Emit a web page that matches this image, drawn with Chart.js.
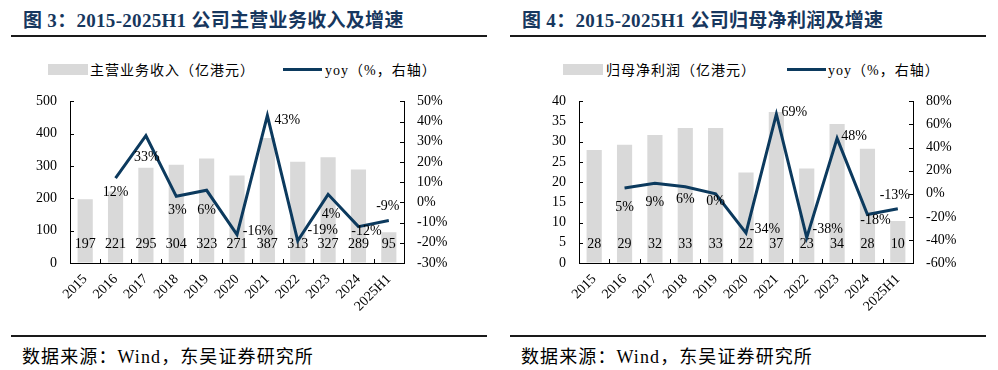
<!DOCTYPE html>
<html>
<head>
<meta charset="utf-8">
<script src="https://cdn.jsdelivr.net/npm/chart.js@4.4.1/dist/chart.umd.min.js"></script>
<style>
  body { margin: 0; width: 998px; height: 370px; background: #fff; position: relative; overflow: hidden;
         font-family: "Liberation Serif", "Noto Sans CJK SC", serif; color: #000; }
  .panel { position: absolute; top: 0; width: 499px; height: 370px; }
  .title { position: absolute; left: 23px; top: 5px; font-size: 19px; font-weight: bold; color: #17375e; white-space: nowrap; letter-spacing: 0.3px; }
  .rule { position: absolute; left: 11px; width: 476px; height: 2px; background: #1a1a1a; }
  .sw-bar { position: absolute; top: 64px; width: 40px; height: 11px; background: #d9d9d9; }
  .sw-line { position: absolute; top: 68px; width: 39px; height: 3px; background: #0c3a5e; }
  .lg { position: absolute; top: 59px; font-size: 14px; white-space: nowrap; letter-spacing: 1px; }
  .src { position: absolute; left: 22px; top: 342px; font-size: 18px; white-space: nowrap; letter-spacing: 1.1px; }
  .wrap { position: absolute; left: 0; top: 80px; width: 499px; height: 250px; }
</style>
</head>
<body>
<div class="panel" style="left:0">
  <div class="title">图 3：2015-2025H1 公司主营业务收入及增速</div>
  <div class="rule" style="top:35px"></div>
  <div class="sw-bar" style="left:48px"></div>
  <div class="lg" style="left:90px">主营业务收入（亿港元）</div>
  <div class="sw-line" style="left:283px"></div>
  <div class="lg" style="left:325px">yoy（%，右轴）</div>
  <div class="wrap"><canvas id="c1" width="499" height="250"></canvas></div>
  <div class="rule" style="top:335px"></div>
  <div class="src">数据来源：Wind，东吴证券研究所</div>
</div>
<div class="panel" style="left:499px">
  <div class="title">图 4：2015-2025H1 公司归母净利润及增速</div>
  <div class="rule" style="top:35px"></div>
  <div class="sw-bar" style="left:64px"></div>
  <div class="lg" style="left:107px">归母净利润（亿港元）</div>
  <div class="sw-line" style="left:288px"></div>
  <div class="lg" style="left:329px">yoy（%，右轴）</div>
  <div class="wrap"><canvas id="c2" width="499" height="250"></canvas></div>
  <div class="rule" style="top:335px"></div>
  <div class="src">数据来源：Wind，东吴证券研究所</div>
</div>

<script>
const years = ['2015', '2016', '2017', '2018', '2019', '2020', '2021', '2022', '2023', '2024', '2025H1'];

// 图3 主营业务收入（亿港元）与同比（%）
const revenue = [197, 221, 295, 304, 323, 271, 387, 313, 327, 289, 95];
const revenueYoy = [null, 12, 33, 3, 6, -16, 43, -19, 4, -12, -9];

// 图4 归母净利润（亿港元）与同比（%）
const profit = [28, 29.3, 31.7, 33.4, 33.4, 22.4, 37.4, 23.4, 34.4, 28.3, 10.4];
const profitYoy = [null, 5, 9, 6, 0, -34, 69, -38, 48, -18, -13];

// label nudges for the yoy labels [dx, dy] relative to the point
const revYoyNudge = [null, [0, 14], [1, 22], [1, 14], [0, 20], [21, -3], [20, 5], [25, -10], [3, 20], [8, 5], [-1, -14]];
const proYoyNudge = [null, [0, 19], [0, 19], [0, 13], [0, 8], [19, -4], [18, -2], [21, -8], [17, -2], [8, 6], [-3, -13]];

const NAVY = '#0c3a5e';
const FONT = '"Liberation Serif", "Times New Roman", serif';

const decor = {
  id: 'decor',
  afterDatasetDraw(chart, args) {
    if (args.meta.type !== 'bar') return;
    const { ctx, chartArea: a } = chart;
    const vals = chart.data.datasets[args.index].data;
    ctx.save();
    ctx.font = '14px ' + FONT;
    ctx.fillStyle = '#000';
    ctx.textAlign = 'center';
    ctx.textBaseline = 'middle';
    args.meta.data.forEach((b, i) => ctx.fillText(String(Math.round(vals[i])), b.x, a.bottom - 19));
    ctx.restore();
  },
  afterDatasetsDraw(chart, args, opts) {
    const { ctx, chartArea: a, scales } = chart;
    ctx.save();
    // inward tick marks
    ctx.strokeStyle = '#000';
    ctx.lineWidth = 1;
    ctx.beginPath();
    scales.y.ticks.forEach((t, i) => {
      const p = Math.round(scales.y.getPixelForTick(i)) + 0.5;
      ctx.moveTo(a.left, p); ctx.lineTo(a.left + 4, p);
    });
    scales.y1.ticks.forEach((t, i) => {
      const p = Math.round(scales.y1.getPixelForTick(i)) + 0.5;
      ctx.moveTo(a.right, p); ctx.lineTo(a.right - 4, p);
    });
    const n = chart.data.labels.length;
    for (let i = 1; i < n; i++) {
      const px = Math.round(a.left + i * (a.right - a.left) / n) + 0.5;
      ctx.moveTo(px, a.bottom); ctx.lineTo(px, a.bottom - 4);
    }
    ctx.stroke();
    // yoy labels
    const lineIdx = chart.data.datasets.findIndex(d => d.type === 'line');
    const meta = chart.getDatasetMeta(lineIdx);
    const vals = chart.data.datasets[lineIdx].data;
    ctx.font = '14px ' + FONT;
    ctx.fillStyle = '#000';
    ctx.textAlign = 'center';
    ctx.textBaseline = 'middle';
    meta.data.forEach((p, i) => {
      if (vals[i] === null) return;
      const nd = opts.nudge[i];
      ctx.fillText(vals[i] + '%', p.x + nd[0], p.y + nd[1]);
    });
    ctx.restore();
  }
};

function makeChart(id, bars, yoy, nudge, left, right, leftW, rightW) {
  new Chart(document.getElementById(id), {
    data: {
      labels: years,
      datasets: [
        { type: 'line', data: yoy, yAxisID: 'y1', borderColor: NAVY, borderWidth: 3,
          pointRadius: 0, tension: 0, order: 0, spanGaps: false },
        { type: 'bar', data: bars, yAxisID: 'y', backgroundColor: '#d9d9d9',
          barPercentage: 0.5, categoryPercentage: 1, order: 1 }
      ]
    },
    options: {
      responsive: false,
      animation: false,
      devicePixelRatio: 1,
      layout: { padding: { top: 11, left: 0, right: 0, bottom: 0 } },
      plugins: { legend: { display: false }, tooltip: { enabled: false }, decor: { nudge: nudge } },
      scales: {
        x: {
          grid: { drawOnChartArea: false, drawTicks: false },
          border: { display: true, color: '#000', width: 1 },
          ticks: { color: '#000', font: { family: FONT, size: 14 }, minRotation: 45, maxRotation: 45, padding: 8 },
          afterFit: s => { s.height = 67; }
        },
        y: {
          position: 'left', min: left[0], max: left[1],
          grid: { drawOnChartArea: false, drawTicks: false },
          border: { display: true, color: '#000', width: 1 },
          ticks: { stepSize: left[2], color: '#000', font: { family: FONT, size: 14 }, padding: 13 },
          afterFit: s => { s.width = leftW; }
        },
        y1: {
          position: 'right', min: right[0], max: right[1],
          grid: { drawOnChartArea: false, drawTicks: false },
          border: { display: true, color: '#000', width: 1 },
          ticks: { stepSize: right[2], color: '#000', font: { family: FONT, size: 14 }, padding: 13,
                   callback: v => v + '%' },
          afterFit: s => { s.width = rightW; }
        }
      }
    },
    plugins: [decor]
  });
}

makeChart('c1', revenue, revenueYoy, revYoyNudge, [0, 500, 100], [-30, 50, 10], 70, 95);
makeChart('c2', profit, profitYoy, proYoyNudge, [0, 40, 5], [-60, 80, 20], 80, 85);
</script>
</body>
</html>
